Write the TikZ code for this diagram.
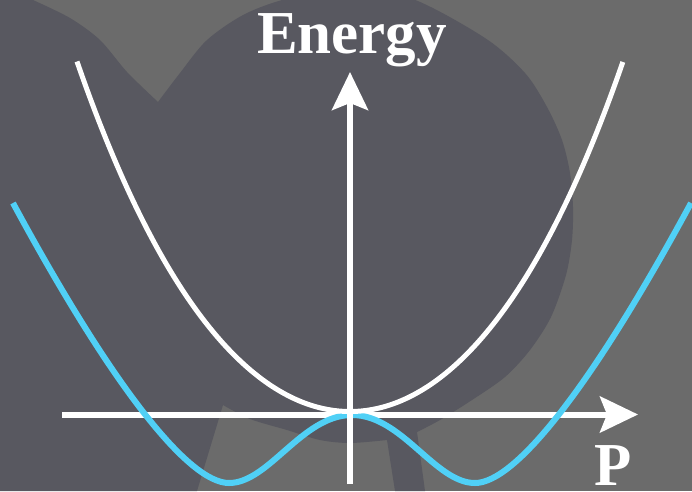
\documentclass[tikz,border=0pt]{standalone}
\usepackage{fontspec}
\setmainfont{Liberation Serif}
\usetikzlibrary{arrows.meta}
\definecolor{bglight}{RGB}{107,107,107}
\definecolor{bgdark}{RGB}{88,88,96}
\definecolor{wellblue}{RGB}{80,208,246}
\begin{document}
\begin{tikzpicture}[x=1pt,y=-1pt,
  axisline/.style={white,line width=6pt,-{Stealth[length=38pt,width=36pt,inset=7pt]}},
  whitecurve/.style={white,line width=5pt,line join=round},
  bluecurve/.style={wellblue,line width=6pt,line join=round},
  lbl/.style={text=white,inner sep=0pt,font=\fontsize{61}{61}\selectfont\bfseries}]
\useasboundingbox (0,0) rectangle (692,491);
\begin{scope}
\clip (0,0) rectangle (692,491);
\fill[bglight] (0,0) rectangle (692,491);
\fill[bgdark] (0,0) -- (33,0)
  -- plot[smooth] coordinates {(33,0) (70,18) (100,40) (127,72) (158,102)}
  -- plot[smooth] coordinates {(158,102) (180,73) (207,40) (245,14) (290,-2) (345,-8) (410,-2) (485,38) (525,73) (547,107) (562,140) (570,173) (573,207) (572,240) (566,275) (551,317) (530,350) (505,377) (472,400) (440,420) (417,432)}
  -- (425,491) -- (395,491) -- (387,440)
  -- plot[smooth] coordinates {(387,440) (350,443) (320,440) (287,430) (250,419) (223,405)}
  -- (197,491) -- (0,491) -- cycle;
\end{scope}
\coordinate (hstart) at (62,414.5);
\coordinate (hend) at (638,414.5);
\coordinate (vstart) at (350,484);
\coordinate (vend) at (350,72);
\draw[axisline] (hstart) -- (hend);
\draw[bluecurve] (13,203) .. controls (113,388) and (189,483) .. (229,483)
  .. controls (269,483) and (302,415) .. (352,415)
  .. controls (402,415) and (435,483) .. (475,483)
  .. controls (515,483) and (591,388) .. (691,203);
\draw[whitecurve] plot[domain=-2.73:2.73,samples=121,smooth] ({350+100*\x},{411.5-(41*\x*\x+0.8*\x*\x*\x*\x)});
\draw[axisline] (vstart) -- (vend);
\node[lbl,anchor=base] (energy) at (352,53) {Energy};
\node[lbl,anchor=base] (plabel) at (613,485) {P};
\end{tikzpicture}
\end{document}
